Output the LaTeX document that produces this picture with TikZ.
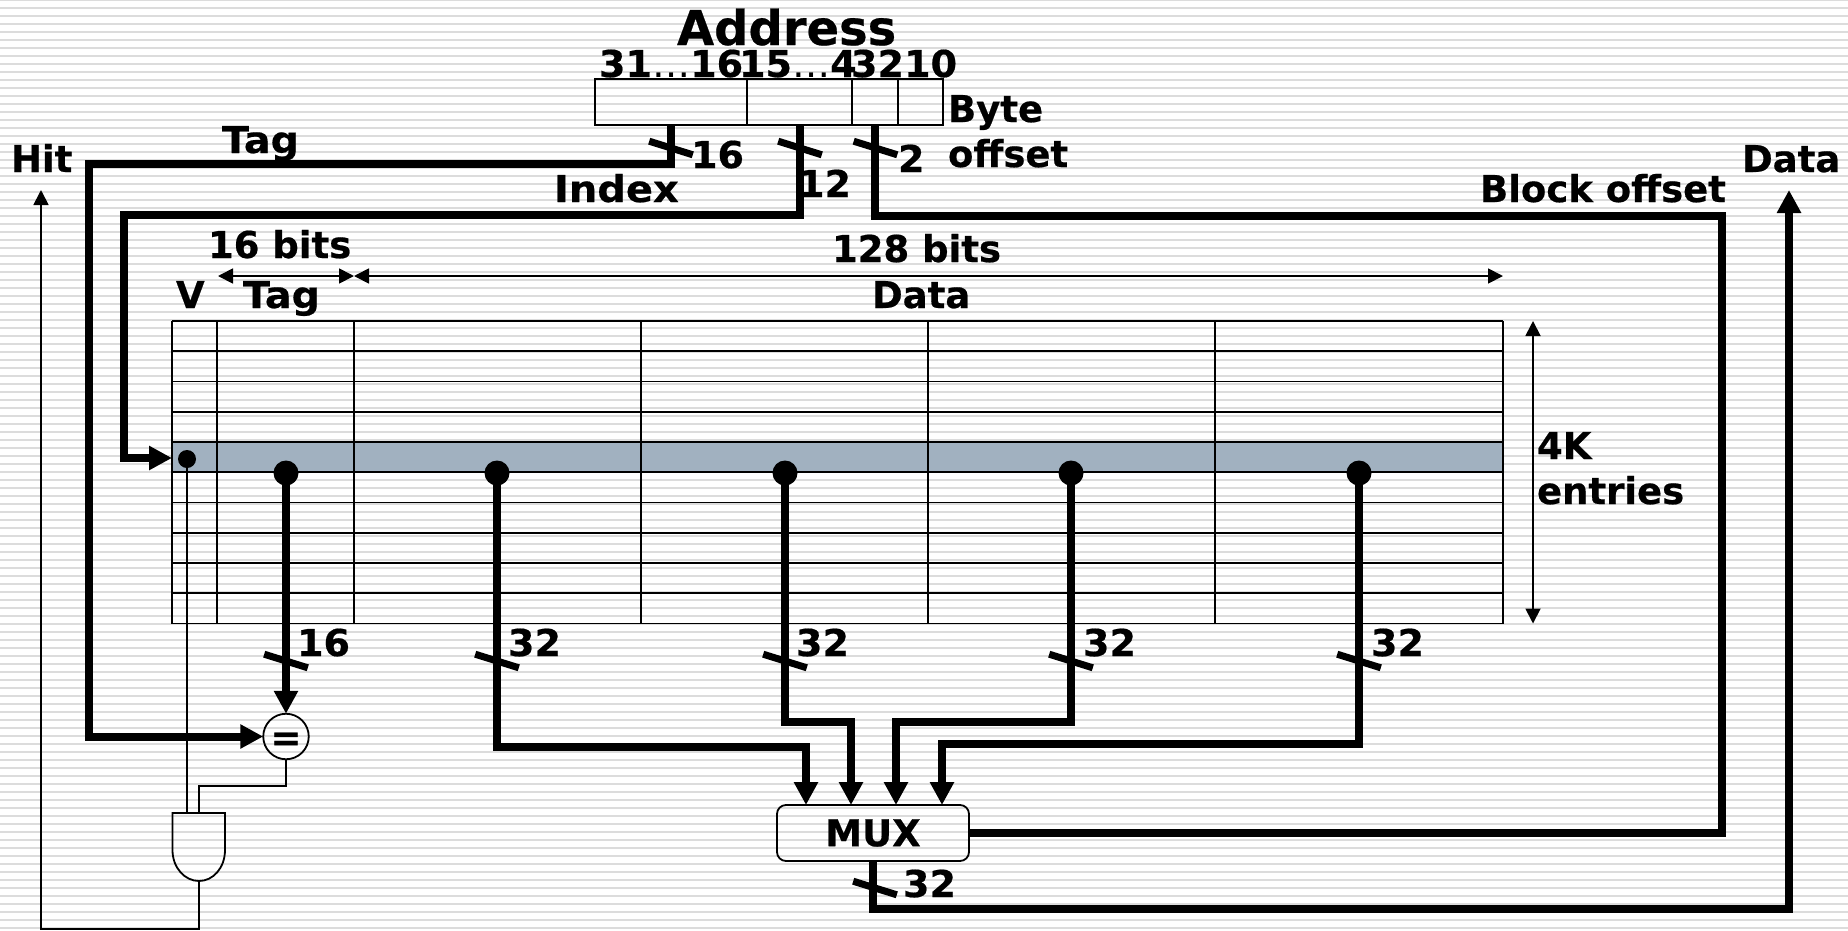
\documentclass[tikz,border=0pt]{standalone}
\usepackage{fontspec}
\setmainfont{DejaVu Sans}[BoldFeatures={FakeBold=0.5}]
\usetikzlibrary{arrows.meta}
\definecolor{stripe}{HTML}{DCDCDC}
\definecolor{band}{HTML}{A1B1C0}
\newcommand{\wider}[1]{\addfontfeature{FakeStretch=#1}}
\tikzset{
  lbl/.style={anchor=base west,inner sep=0pt,outer sep=0pt,font=\fontsize{37}{37}\selectfont\bfseries},
  thin line/.style={line width=1.8pt,black},
  grid line/.style={line width=1.9pt,black},
  bus/.style={line width=8pt,black,miter limit=10},
  bigtip/.style={-{Triangle[length=23pt,width=23pt]}},
  smalltip/.style={-{Triangle[length=15pt,width=15pt]}},
  bothtip/.style={{Triangle[length=15pt,width=15pt]}-{Triangle[length=15pt,width=15pt]}},
  bustick/.style={line width=7pt,black},
  field/.style={draw,line width=1.8pt,minimum height=46pt,inner sep=0pt,outer sep=0pt,anchor=north west},
  dotbig/.style={circle,fill=black,inner sep=0pt,minimum size=25pt},
  dotsmall/.style={circle,fill=black,inner sep=0pt,minimum size=18pt},
}
\begin{document}
\begin{tikzpicture}[x=1pt,y=-1pt]
\useasboundingbox (0,0) rectangle (1848,930);
% striped background
\fill[white] (0,0) rectangle (1848,930);
\foreach \k in {0,...,116} {\fill[stripe] (0,8*\k-0.8) rectangle (1848,8*\k+0.8);}
% highlighted row
\fill[band] (172,442) rectangle (1503,472.5);
% table
\foreach \r in {0,...,10} {\draw[grid line] (172,321+30.25*\r) -- (1503,321+30.25*\r);}
\foreach \c in {172,217,354,641,928,1215,1503} {\draw[grid line] (\c,321) -- (\c,623.5);}
% address fields
\node[field,minimum width=152pt] (f1) at (595,79) {};
\node[field,minimum width=105pt] (f2) at (747,79) {};
\node[field,minimum width=46pt] (f3) at (852,79) {};
\node[field,minimum width=45pt] (f4) at (898,79) {};
% nodes
\node[draw,line width=1.8pt,rounded corners=9pt,minimum width=192pt,minimum height=56pt,inner sep=0pt,outer sep=0pt,font=\fontsize{37}{37}\selectfont\bfseries] (mux) at (873,833) {MUX};
\node[draw,circle,line width=1.8pt,minimum size=45.5pt,inner sep=0pt,outer sep=0pt,font=\fontsize{37}{37}\selectfont\bfseries] (eq) at (286,736.5) {\raisebox{-14pt}[0pt][0pt]{=}};
\node[dotsmall] (dv) at (187,459) {};
\node[dotbig] (dt) at (286,473) {};
\node[dotbig] (d1) at (497,473) {};
\node[dotbig] (d2) at (785,473) {};
\node[dotbig] (d3) at (1071,473) {};
\node[dotbig] (d4) at (1359,473) {};
\coordinate (row) at (172,458);
\coordinate (m1) at (806,805);
\coordinate (m2) at (851,805);
\coordinate (m3) at (896,805);
\coordinate (m4) at (942,805);
\coordinate (dataout) at (1789,190);
\coordinate (hitend) at (41,190);
\coordinate (andv) at (187,813);
\coordinate (ande) at (199,813);
\coordinate (ando) at (199,881);
% AND gate
\draw[thin line] (172.5,813) -- (225,813) -- (225,850)
  .. controls (225,868) and (213,881) .. (199,881)
  .. controls (185,881) and (172.5,868) .. (172.5,850) -- cycle;
% thin connectors
\draw[thin line] (dv.center) -- (andv);
\draw[thin line] (eq.south) |- (199,786) -- (ande);
\draw[thin line,smalltip] (ando) |- (41,929) -- (hitend);
% buses
\draw[bus,bigtip] (f1.south) |- (89,163.5) |- (eq.west);
\draw[bus,bigtip] (f2.south) |- (124,215) |- (row);
\draw[bus] (f3.south) |- (1722,216) |- (mux.east);
\draw[bus,bigtip] (mux.south) |- (1789,909) -- (dataout);
\draw[bus,bigtip] (dt.center) -- (eq.north);
\draw[bus,bigtip] (d1.center) |- (806,746.5) -- (m1);
\draw[bus,bigtip] (d2.center) |- (851,722) -- (m2);
\draw[bus,bigtip] (d3.center) |- (896,722) -- (m3);
\draw[bus,bigtip] (d4.center) |- (942,744) -- (m4);
% width ticks
\foreach \tx/\ty in {671/148,800/148,875.5/148,286/661,497/661,785/661,1071/661,1359/661,875/888}
  {\draw[bustick] (\tx-21.8,\ty-6.8) -- (\tx+21.8,\ty+6.8);}
% dimension arrows
\draw[thin line,bothtip] (218,276) -- (354,276);
\draw[thin line,bothtip] (354,276) -- (1503,276);
\draw[thin line,bothtip] (1533,321) -- (1533,623.5);
% labels
\node[lbl,font=\fontsize{48}{48}\selectfont\bfseries] (tAddr) at (677,45) {Address};
\node[lbl] (tA) at (599,77) {\wider{1.03}31{\mdseries…}16};
\node[lbl] (tB) at (739,77) {\wider{1.03}15{\mdseries…}4};
\node[lbl] (tC) at (851,77) {\wider{1.03}3210};
\node[lbl] (tHit) at (11,172) {Hit};
\node[lbl] (tTag1) at (222,153) {\wider{1.07}Tag};
\node[lbl] (tIndex) at (554,202) {\wider{1.08}Index};
\node[lbl] (t16a) at (691,168) {\wider{1.03}16};
\node[lbl] (t12) at (798,197) {\wider{1.03}12};
\node[lbl] (t2) at (898,172) {\wider{1.03}2};
\node[lbl] (tByte) at (948,122) {Byte};
\node[lbl] (tOff) at (948,167) {offset};
\node[lbl] (tBlock) at (1480,202) {Block offset};
\node[lbl] (tData1) at (1742,172) {Data};
\node[lbl] (t16bits) at (208,258) {16 bits};
\node[lbl] (t128) at (832,262) {128 bits};
\node[lbl] (tV) at (176,308) {V};
\node[lbl] (tTag2) at (243,308) {\wider{1.07}Tag};
\node[lbl] (tData2) at (872,308) {Data};
\node[lbl] (t4K) at (1537,459) {4K};
\node[lbl] (tEnt) at (1537,504) {entries};
\node[lbl] (t16b) at (297,656) {\wider{1.03}16};
\node[lbl] (t32a) at (508,656) {\wider{1.03}32};
\node[lbl] (t32b) at (796,656) {\wider{1.03}32};
\node[lbl] (t32c) at (1083,656) {\wider{1.03}32};
\node[lbl] (t32d) at (1371,656) {\wider{1.03}32};
\node[lbl] (t32e) at (903,897) {\wider{1.03}32};
\end{tikzpicture}
\end{document}
